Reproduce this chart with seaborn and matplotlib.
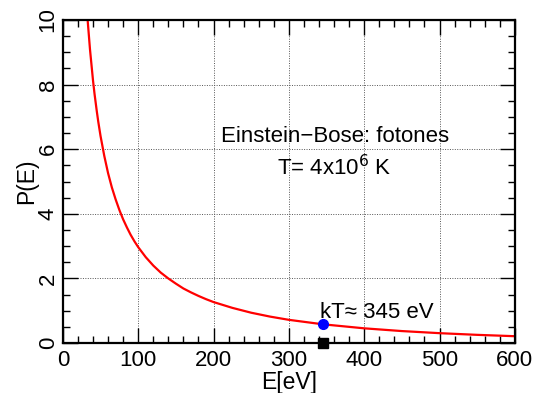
import matplotlib
matplotlib.use("Agg")
import matplotlib.pyplot as plt
from matplotlib.ticker import MultipleLocator
import seaborn as sns
import pandas as pd

# valores
energia = [33, 36, 40, 42, 45, 47, 50, 55, 60, 65, 70, 75, 80, 85, 90, 95, 100,
           110, 120, 130, 140, 150, 160, 170, 180, 190, 200, 225, 250, 275, 300,
           345, 400, 450, 500, 550, 600]
prob = [9.96, 9.09, 8.13, 7.72, 7.18, 6.85, 6.41, 5.79, 5.26, 4.82, 4.45, 4.12,
        3.83, 3.58, 3.35, 3.15, 2.97, 2.66, 2.40, 2.18, 2.00, 1.84, 1.69, 1.57,
        1.46, 1.36, 1.27, 1.09, 0.94, 0.82, 0.72, 0.582, 0.457, 0.372, 0.307,
        0.255, 0.213]
kT = 345
P_kT = 0.582
x_ticks = [0, 100, 200, 300, 400, 500, 600]
y_ticks = [0, 2, 4, 6, 8, 10]

df = pd.DataFrame({"E": energia, "P": prob})

sns.set_theme(style="ticks")
plt.rcParams['font.family'] = ['Liberation Sans', 'DejaVu Sans']
plt.rcParams['text.color'] = 'black'
plt.rcParams['axes.labelcolor'] = 'black'

fig = plt.figure(figsize=(5.42, 3.93), dpi=100)
ax = fig.add_axes([0.116, 0.127, 0.834, 0.822])

sns.lineplot(data=df, x="E", y="P", color="#ff0000", linewidth=1.6, ax=ax)
ax.plot([kT], [P_kT], "o", color="#0000ff", markersize=7, zorder=5)
ax.plot([kT], [0], "s", color="black", markersize=7, clip_on=False, zorder=6)

ax.set_xlim(0, 600)
ax.set_ylim(0, 10)
ax.set_xticks(x_ticks)
ax.set_yticks(y_ticks)
ax.xaxis.set_minor_locator(MultipleLocator(20))
ax.yaxis.set_minor_locator(MultipleLocator(0.5))
ax.tick_params(which="both", direction="in", top=True, right=True,
               colors="black", labelsize=16, width=1.0)
ax.tick_params(which="major", length=11)
ax.tick_params(which="minor", length=5)
for lbl in ax.get_yticklabels():
    lbl.set_rotation(90)
    lbl.set_va("center")
ax.tick_params(axis="y", pad=3)
ax.tick_params(axis="x", pad=5)

for s in ax.spines.values():
    s.set_linewidth(1.6)
    s.set_color("black")

ax.grid(True, which="major", linestyle=(0, (1, 1.5)), color="#555555", linewidth=0.7)

ax.set_xlabel("E[eV]", fontsize=16.5, labelpad=0)
ax.set_ylabel("P(E)", fontsize=16.5, labelpad=0)

ax.text(341, 0.77, "kT\u2248 345 eV", fontsize=16, ha="left", va="baseline")
ax.text(361, 6.22, "Einstein\u2212Bose: fotones", fontsize=16, ha="center", va="baseline")
ax.text(360, 5.2, r"T= 4x10$^{6}$ K", fontsize=16, ha="center", va="baseline")

fig.savefig("out.png", dpi=100)
